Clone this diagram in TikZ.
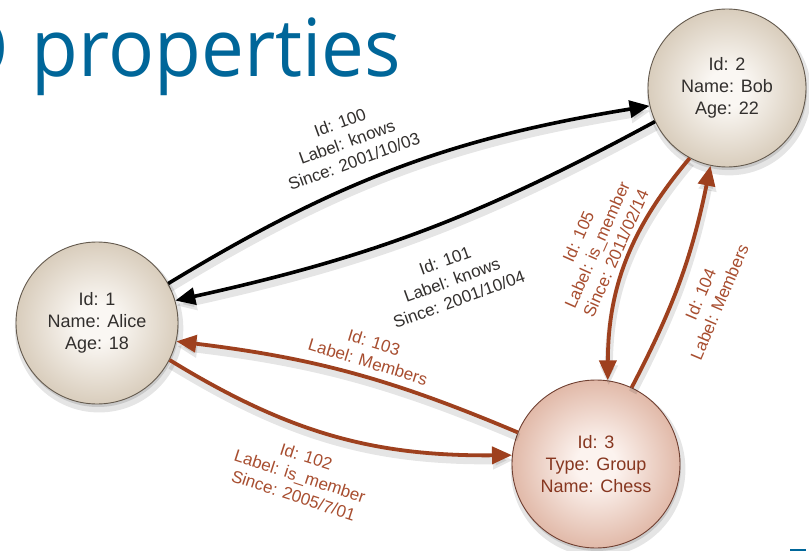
\documentclass[tikz,border=0pt]{standalone}
\usepackage{fontspec}
\setmainfont{Liberation Sans}
\newfontfamily\titlefont{Open Sans}
\usetikzlibrary{arrows.meta,shadows}

\definecolor{titleblue}{RGB}{0,102,153}
\definecolor{edgebrown}{RGB}{158,64,30}
\definecolor{labelbrown}{RGB}{168,78,48}
\definecolor{persontext}{RGB}{50,47,45}
\definecolor{grouptext}{RGB}{135,55,32}
\definecolor{personin}{RGB}{250,247,243}
\definecolor{personmid}{RGB}{208,194,174}
\definecolor{personout}{RGB}{150,130,106}
\definecolor{personrim}{RGB}{100,90,78}
\definecolor{groupin}{RGB}{252,243,239}
\definecolor{groupmid}{RGB}{218,170,150}
\definecolor{groupout}{RGB}{168,96,74}
\definecolor{grouprim}{RGB}{112,64,50}

% soft radial fill of the vertices
\pgfdeclareradialshading{personball}{\pgfpoint{0bp}{0bp}}{%
  color(0bp)=(personin); color(6bp)=(personin); color(30bp)=(personmid);
  color(50bp)=(personout)}
\pgfdeclareradialshading{groupball}{\pgfpoint{0bp}{0bp}}{%
  color(0bp)=(groupin); color(6bp)=(groupin); color(30bp)=(groupmid);
  color(50bp)=(groupout)}

\tikzset{
  x=1pt, y=-1pt,
  vertex/.style={circle, inner sep=0pt, align=center,
    font=\fontsize{18}{22}\selectfont, line width=0.9pt,
    drop shadow={shadow xshift=2pt, shadow yshift=-5pt, opacity=0.10, fill=black, shadow scale=1.04},
    drop shadow={shadow xshift=1pt, shadow yshift=-3pt, opacity=0.12, fill=black}},
  person/.style={vertex, shade, shading=personball, draw=personrim,
    text=persontext},
  group/.style={vertex, shade, shading=groupball, draw=grouprim,
    text=grouptext},
  edgeshadow/.style={preaction={draw=black, opacity=0.10, line width=8pt,
    transform canvas={xshift=1pt, yshift=-5pt}}},
  knows/.style={edgeshadow, draw=black, line width=3.6pt,
    -{Triangle[length=20pt,width=17pt]}},
  member/.style={edgeshadow, draw=edgebrown, line width=3.8pt,
    -{Triangle[length=20pt,width=17pt]}},
  lbl/.style={align=center, inner sep=0pt,
    font=\fontsize{17}{20.5}\selectfont, text=persontext},
  lblbrown/.style={lbl, text=labelbrown},
}

\begin{document}
\begin{tikzpicture}
\clip (0,0) rectangle (809,551);
\useasboundingbox (0,0) rectangle (809,551);
\fill[white] (0,0) rectangle (809,551);

% heading, cut at the left border
\node[anchor=base east, inner sep=0pt, text=titleblue,
  font=\titlefont\fontsize{80}{90}\selectfont, xscale=0.955, transform shape]
  (title) at (401,77) {O\hspace{3pt} properties};
\fill[titleblue] (790,548.5) rectangle (806,551);

% vertices
\node[person, minimum size=162pt] (alice) at (97,323) {Id: 1\\Name: Alice\\Age: 18};
\node[person, minimum size=158pt] (bob) at (727,88) {Id: 2\\Name: Bob\\Age: 22};
\node[group, minimum size=168pt] (chess) at (596,464) {Id: 3\\Type: Group\\Name: Chess};

% edges
\draw[knows] (alice.29) to[bend left=11] (bob.193);
\draw[knows] (bob.205) to[bend left=8] (alice.16);
\draw[member] (chess.158) to[bend right=8] (alice.-13);
\draw[member] (alice.-27) to[bend right=16] (chess.174);
\draw[member] (bob.242) to[bend right=20] (chess.82);
\draw[member] (chess.65) to[bend right=8] (bob.258);

% edge properties
\node[lbl, rotate=20] (p100) at (347,142) {Id: 100\\Label: knows\\Since: 2001/10/03};
\node[lbl, rotate=20] (p101) at (452,280) {Id: 101\\Label: knows\\Since: 2001/10/04};
\node[lblbrown, rotate=-17] (p103) at (371,352) {Id: 103\\Label: Members};
\node[lblbrown, rotate=-18] (p102) at (300,476) {Id: 102\\Label: is\_member\\Since: 2005/7/01};
\node[lblbrown, rotate=66] (p105) at (597,245) {Id: 105\\Label: is\_member\\Since: 2011/02/14};
\node[lblbrown, rotate=67] (p104) at (710,298) {Id: 104\\Label: Members};
\end{tikzpicture}
\end{document}
